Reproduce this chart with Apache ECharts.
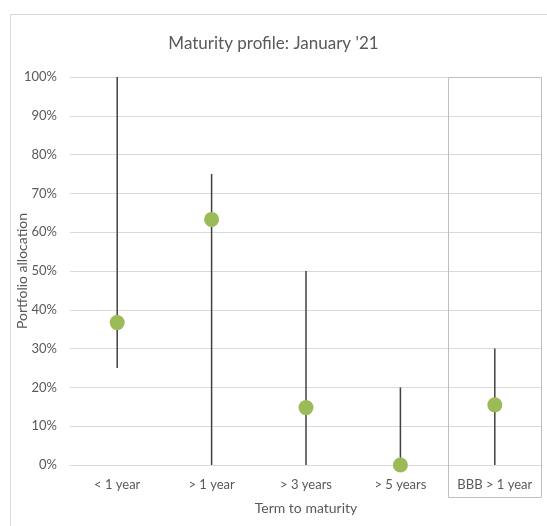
<!DOCTYPE html>
<html>
<head>
<meta charset="utf-8">
<script src="https://cdn.jsdelivr.net/npm/echarts@6/dist/echarts.min.js"></script>
<style>
html, body { margin: 0; padding: 0; background: #fff; }
#chart_maturity { width: 547px; height: 526px; }
</style>
</head>
<body>
<div id="chart_maturity"></div>
<script>
// maturity buckets and allocation ranges (in %)
const categories = ['< 1 year', '> 1 year', '> 3 years', '> 5 years', 'BBB > 1 year'];
const rangeLow = [25, 0, 0, 0, 0];
const rangeHigh = [100, 75, 50, 20, 30];
const current = [36.7, 63.3, 14.8, 0, 15.5];

const fontName = 'Lato';
const textColor = '#595959';
const gridColor = '#d9d9d9';

let rangeData = categories.map(function (c, i) { return [i, rangeLow[i], rangeHigh[i]]; });

let chart = echarts.init(document.getElementById('chart_maturity'));
chart.setOption({
    animation: false,
    title: {
        text: "Maturity profile: January '21",
        left: 'center',
        top: 30,
        textStyle: { fontFamily: fontName, fontSize: 17, fontWeight: 'normal', color: textColor }
    },
    grid: { left: 70, right: 5, top: 77, bottom: 61, containLabel: false, outerBoundsMode: 'none' },
    xAxis: {
        type: 'category',
        data: categories,
        name: 'Term to maturity',
        nameLocation: 'middle',
        nameGap: 36,
        nameMoveOverlap: false,
        nameTextStyle: { fontFamily: fontName, fontSize: 14, color: textColor },
        axisLine: { lineStyle: { color: gridColor } },
        axisTick: { show: false },
        axisLabel: { interval: 0, fontFamily: fontName, fontSize: 13, color: textColor, margin: 13 }
    },
    yAxis: {
        type: 'value',
        min: 0,
        max: 100,
        interval: 10,
        name: 'Portfolio allocation',
        nameLocation: 'middle',
        nameGap: 41,
        nameMoveOverlap: false,
        nameTextStyle: { fontFamily: fontName, fontSize: 14, color: textColor },
        axisLabel: { formatter: '{value}%', fontFamily: fontName, fontSize: 13, color: textColor, margin: 13 },
        splitLine: { lineStyle: { color: gridColor } }
    },
    series: [
        {
            name: 'range',
            type: 'custom',
            data: rangeData,
            renderItem: function (params, api) {
                let lo = api.coord([api.value(0), api.value(1)]);
                let hi = api.coord([api.value(0), api.value(2)]);
                return {
                    type: 'line',
                    shape: { x1: lo[0], y1: lo[1], x2: hi[0], y2: hi[1] },
                    style: { stroke: '#404040', lineWidth: 1.5 }
                };
            },
            z: 2
        },
        {
            name: 'current',
            type: 'scatter',
            data: current,
            symbolSize: 15,
            itemStyle: { color: '#9bbb59', opacity: 1 },
            z: 3
        }
    ]
});

// outer chart border and the box round the BBB bucket
let bbbX = chart.convertToPixel({ xAxisIndex: 0 }, categories.length - 1);
let band = (chart.getWidth() - 70 - 5) / categories.length;
let yTop = chart.convertToPixel({ yAxisIndex: 0 }, 100);
let yZero = chart.convertToPixel({ yAxisIndex: 0 }, 0);
chart.setOption({
    graphic: [
        { type: 'line', shape: { x1: 10.5, y1: 14.5, x2: 547, y2: 14.5 }, style: { stroke: gridColor, lineWidth: 1 } },
        { type: 'line', shape: { x1: 10.5, y1: 14.5, x2: 10.5, y2: 526 }, style: { stroke: gridColor, lineWidth: 1 } },
        {
            type: 'rect',
            shape: { x: Math.round(bbbX - band / 2) + 0.5, y: Math.round(yTop) + 0.5, width: Math.round(band) - 1, height: Math.round(yZero - yTop) + 32 },
            style: { fill: 'none', stroke: '#bfbfbf', lineWidth: 1 },
            z: 1
        }
    ]
});
</script>
</body>
</html>
